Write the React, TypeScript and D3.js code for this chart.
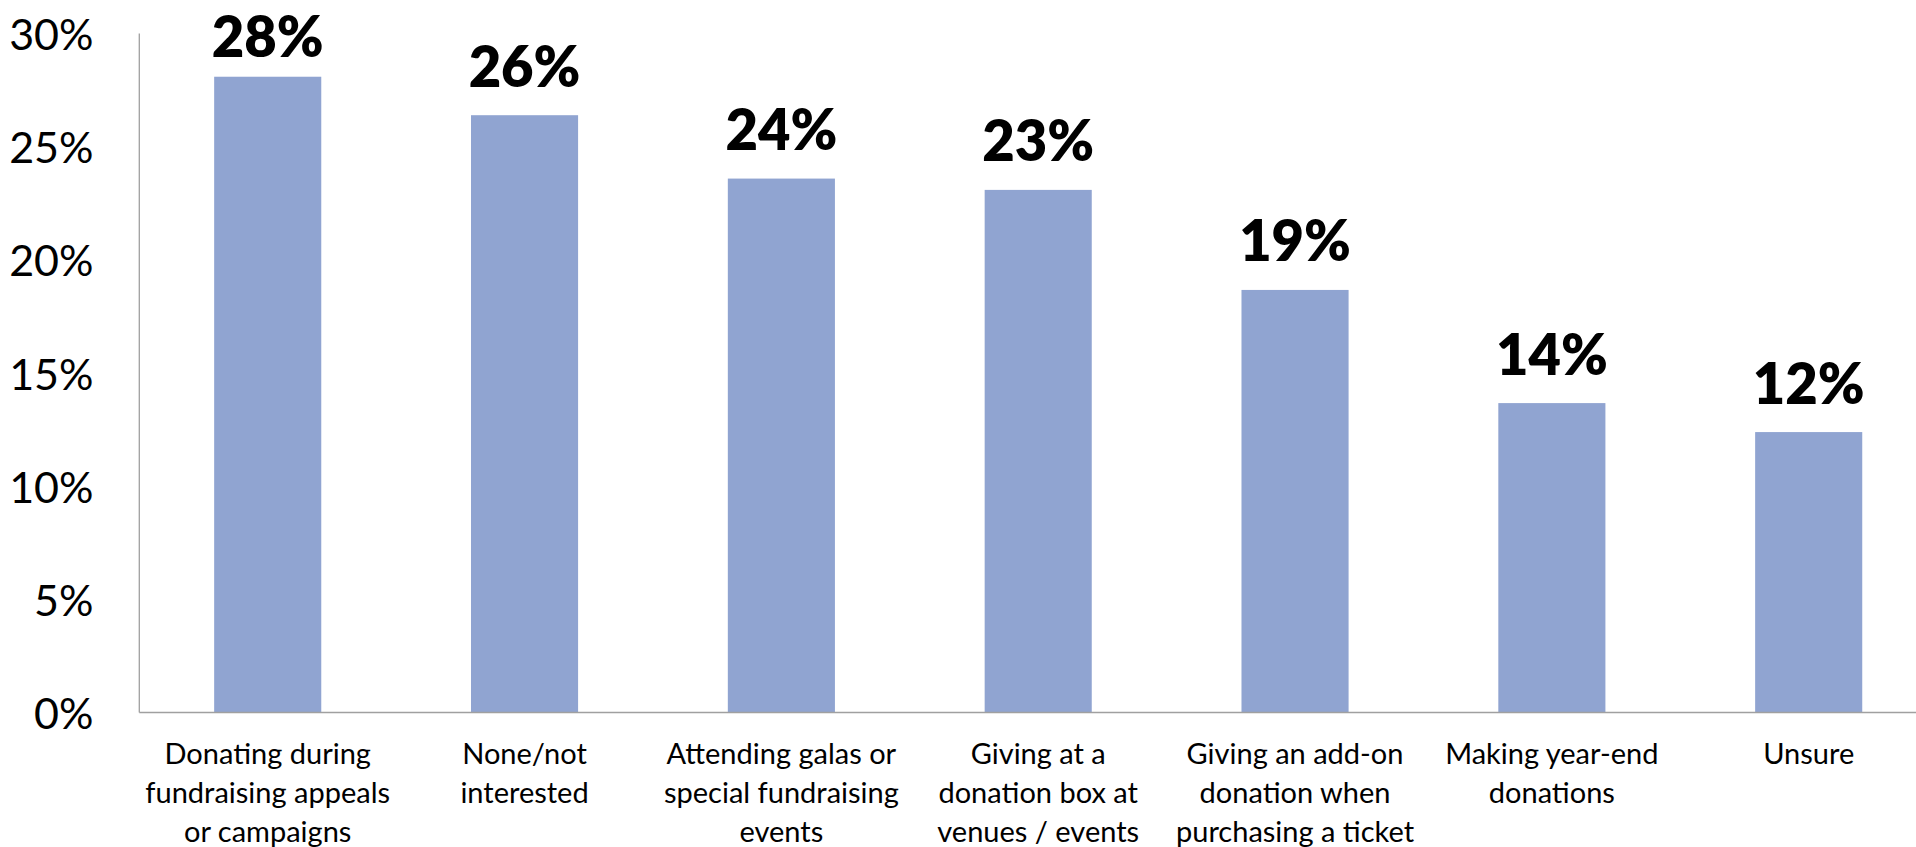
import React from "react";
import * as d3 from "d3";

const categories: string[] = [
  "Donating during\nfundraising appeals\nor campaigns",
  "None/not\ninterested",
  "Attending galas or\nspecial fundraising\nevents",
  "Giving at a\ndonation box at\nvenues / events",
  "Giving an add-on\ndonation when\npurchasing a ticket",
  "Making year-end\ndonations",
  "Unsure",
];
const values: number[] = [28.09, 26.39, 23.59, 23.09, 18.67, 13.67, 12.39];
const valueLabels: string[] = ["28%", "26%", "24%", "23%", "19%", "14%", "12%"];
const yTicks: number[] = [0, 5, 10, 15, 20, 25, 30];

const W = 1916;
const H = 847;
const left = 139.3;
const top = 33.5;
const bottom = 712.5;
const step = 256.83;

export default function App() {
  const x = d3
    .scaleBand<string>()
    .domain(categories)
    .range([left, left + step * categories.length])
    .paddingInner(0.583)
    .paddingOuter(0.2915);
  const y = d3.scaleLinear().domain([0, 30]).range([bottom, top]);
  const font = "Lato, 'Open Sans', sans-serif";

  return (
    <svg
      width={W}
      height={H}
      style={{ position: "absolute", left: 0, top: 0, background: "#fff" }}
    >
      {yTicks.map((t) => (
        <text
          key={t}
          x={93.5}
          y={y(t)}
          textAnchor="end"
          dominantBaseline="central"
          fontFamily={font}
          fontSize={43}
          fill="#000"
        >
          {`${t}%`}
        </text>
      ))}
      {categories.map((c, i) => (
        <rect
          key={c}
          x={x(c)!}
          y={y(values[i])}
          width={x.bandwidth()}
          height={bottom - y(values[i])}
          fill="#90A4D1"
        />
      ))}
      <line x1={left} x2={left} y1={top} y2={bottom} stroke="#A0A0A0" strokeWidth={1.3} />
      <line x1={left} x2={W} y1={bottom} y2={bottom} stroke="#A0A0A0" strokeWidth={1.3} />
      {categories.map((c, i) => (
        <text
          key={"v" + c}
          x={x(c)! + x.bandwidth() / 2}
          y={Math.max(y(values[i]) - 28.5, 57)}
          textAnchor="middle"
          fontFamily={font}
          fontWeight={800}
          fontSize={56}
          fill="#000"
        >
          {valueLabels[i]}
        </text>
      ))}
      {categories.map((c) => (
        <text
          key={"c" + c}
          x={x(c)! + x.bandwidth() / 2}
          y={764}
          textAnchor="middle"
          fontFamily={font}
          fontSize={29}
          fill="#000"
        >
          {c.split("\n").map((line, j) => (
            <tspan key={j} x={x(c)! + x.bandwidth() / 2} dy={j === 0 ? 0 : 39}>
              {line}
            </tspan>
          ))}
        </text>
      ))}
    </svg>
  );
}
